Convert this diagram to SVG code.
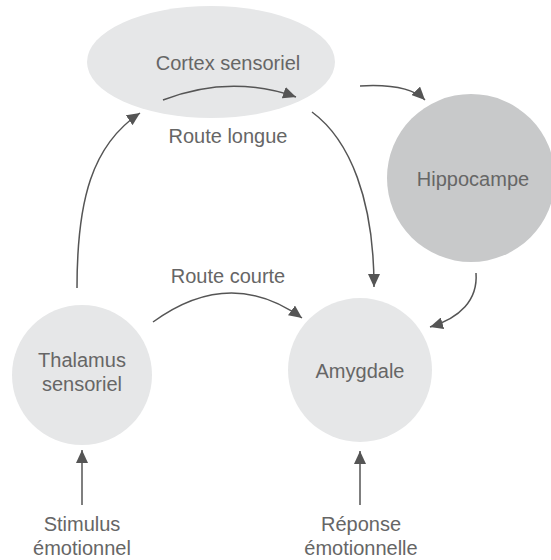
<svg xmlns="http://www.w3.org/2000/svg" width="551" height="560" viewBox="0 0 551 560">
<style>
.n{fill:#e6e7e8}
.h{fill:#c8c9ca}
.t{font-family:"Liberation Sans",Arial,sans-serif;font-size:20px;fill:#666;text-anchor:middle}
.c{fill:none;stroke:#555;stroke-width:1.5}
</style>
<defs>
<marker id="a" markerUnits="userSpaceOnUse" markerWidth="14" markerHeight="12" refX="13" refY="6" orient="auto">
<path d="M0,0 L13,6 L0,12 z" fill="#555"/>
</marker>
</defs>
<rect width="551" height="560" fill="#fff"/>
<g id="cortex"><ellipse class="n" cx="211" cy="62" rx="124" ry="56"/><text class="t" x="228" y="70">Cortex sensoriel</text></g>
<g id="hippocampe"><circle class="h" cx="471" cy="178" r="84"/><text class="t" x="473" y="186">Hippocampe</text></g>
<g id="thalamus"><circle class="n" cx="82" cy="375" r="70"/><text class="t" x="82" y="367">Thalamus</text><text class="t" x="82" y="391">sensoriel</text></g>
<g id="amygdale"><circle class="n" cx="360" cy="370" r="72"/><text class="t" x="360" y="378">Amygdale</text></g>
<g id="labels">
<text class="t" x="228" y="143">Route longue</text>
<text class="t" x="228" y="283">Route courte</text>
<text class="t" x="82" y="531">Stimulus</text>
<text class="t" x="82" y="555">émotionnel</text>
<text class="t" x="361" y="531">Réponse</text>
<text class="t" x="361" y="555">émotionnelle</text>
</g>
<g id="connectors">
<path class="c" marker-end="url(#a)" d="M163,100 Q230,74 296,97"/>
<path class="c" marker-end="url(#a)" d="M77,288 C77,200 92,145 140,113"/>
<path class="c" marker-end="url(#a)" d="M312,112 C350,140 374,200 374,287"/>
<path class="c" marker-end="url(#a)" d="M360,86 C395,84 415,90 425,100"/>
<path class="c" marker-end="url(#a)" d="M476,273 C478,300 460,318 430,327"/>
<path class="c" marker-end="url(#a)" d="M153,322 Q230,266 302,318"/>
<path class="c" marker-end="url(#a)" d="M82,505 L82,450"/>
<path class="c" marker-end="url(#a)" d="M360,505 L360,451"/>
</g>
</svg>
